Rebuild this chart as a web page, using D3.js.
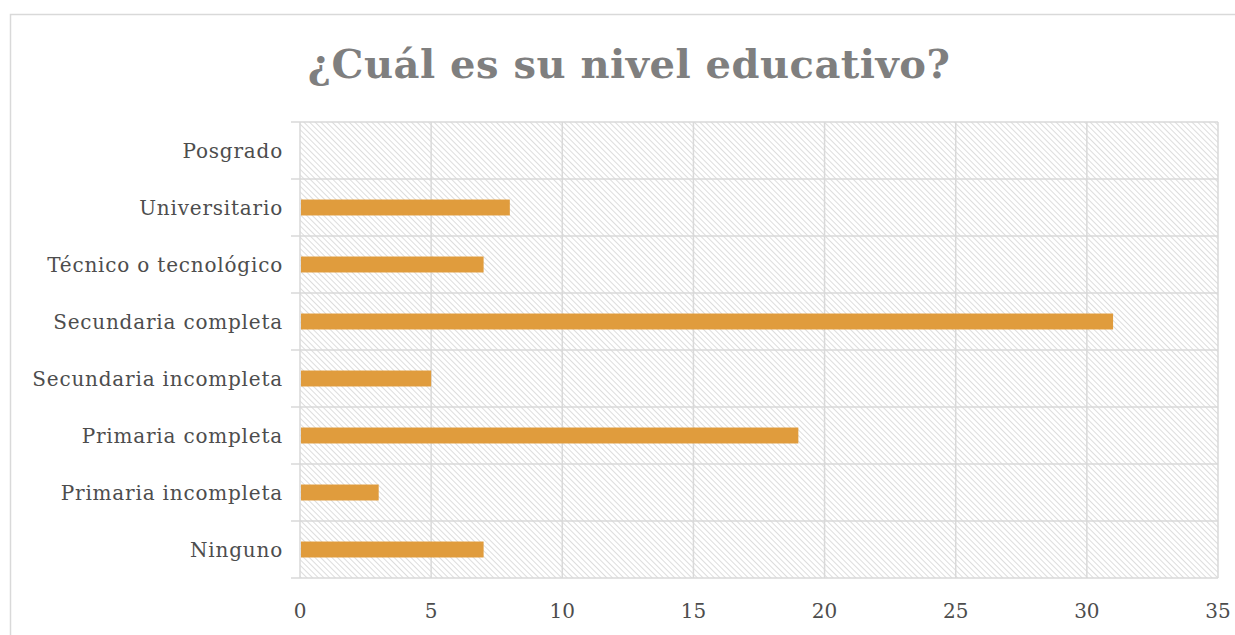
<!DOCTYPE html>
<html>
<head>
<meta charset="utf-8">
<script src="https://cdn.jsdelivr.net/npm/d3@7"></script>
<style>
  body { margin: 0; background: #fff; }
  text { font-family: "DejaVu Serif", "Liberation Serif", serif; }
</style>
</head>
<body>
<div id="chart"></div>
<script>
var categories = ["Ninguno", "Primaria incompleta", "Primaria completa", "Secundaria incompleta",
                  "Secundaria completa", "Técnico o tecnológico", "Universitario", "Posgrado"];
var values = [7, 3, 19, 5, 31, 7, 8, 0];
var ticks = [0, 5, 10, 15, 20, 25, 30, 35];

var width = 1235,
    height = 635,
    margin = {top: 122, right: 17, bottom: 57, left: 300};

var svg = d3.select("#chart").append("svg")
    .attr("width", width)
    .attr("height", height);

// hatch fill, lines running top-left to bottom-right
var defs = svg.append("defs");
var pat = defs.append("pattern")
    .attr("id", "hatch")
    .attr("patternUnits", "userSpaceOnUse")
    .attr("width", 4)
    .attr("height", 4)
    .attr("patternTransform", "rotate(-45)");
pat.append("line")
    .attr("x1", 0).attr("y1", 0).attr("x2", 0).attr("y2", 4)
    .attr("stroke", "#cfcfcf")
    .attr("stroke-width", 1.4);

// outer frame
svg.append("rect")
    .attr("x", 10.5).attr("y", 14.5)
    .attr("width", 1240).attr("height", 640)
    .attr("fill", "none")
    .attr("stroke", "#d9d9d9")
    .attr("stroke-width", 1.5);

svg.append("text")
    .attr("x", 629)
    .attr("y", 78)
    .attr("text-anchor", "middle")
    .style("font-size", "40px")
    .style("font-weight", "bold")
    .style("letter-spacing", "0.5px")
    .style("fill", "#7f7f7f")
    .text("¿Cuál es su nivel educativo?");

var x = d3.scaleLinear()
    .domain([0, 35])
    .range([margin.left, width - margin.right]);

var y = d3.scaleBand()
    .domain(categories.slice().reverse())
    .range([margin.top, height - margin.bottom]);

var g = svg.append("g");

g.append("rect")
    .attr("x", x(0)).attr("y", margin.top)
    .attr("width", x(35) - x(0))
    .attr("height", height - margin.bottom - margin.top)
    .attr("fill", "url(#hatch)");

// vertical gridlines
g.selectAll(".vgrid")
    .data(ticks)
    .enter().append("line")
    .attr("x1", function(d) { return x(d); })
    .attr("x2", function(d) { return x(d); })
    .attr("y1", margin.top)
    .attr("y2", height - margin.bottom)
    .attr("stroke", "#d9d9d9")
    .attr("stroke-width", 1.5);

// horizontal band lines
var bounds = categories.map(function(c) { return y(c); }).concat([height - margin.bottom]);
g.selectAll(".hgrid")
    .data(bounds)
    .enter().append("line")
    .attr("x1", x(0) - 9)
    .attr("x2", x(35))
    .attr("y1", function(d) { return d; })
    .attr("y2", function(d) { return d; })
    .attr("stroke", "#d9d9d9")
    .attr("stroke-width", 1.5);

var barH = y.bandwidth() * 0.28;
g.selectAll(".bar")
    .data(categories)
    .enter().append("rect")
    .attr("x", x(0) + 1)
    .attr("y", function(d) { return y(d) + y.bandwidth() / 2 - barH / 2; })
    .attr("width", function(d, i) { return Math.max(0, x(values[i]) - x(0) - 1); })
    .attr("height", barH)
    .attr("fill", "#e09c3d");

// category labels
g.selectAll(".cat")
    .data(categories)
    .enter().append("text")
    .attr("x", 283)
    .attr("y", function(d) { return y(d) + y.bandwidth() / 2; })
    .attr("dy", "0.36em")
    .attr("text-anchor", "end")
    .style("font-size", "20px")
    .style("letter-spacing", "0.8px")
    .style("fill", "#4d4d4d")
    .text(function(d) { return d; });

// x tick labels
g.selectAll(".tick")
    .data(ticks)
    .enter().append("text")
    .attr("x", function(d) { return x(d); })
    .attr("y", 618)
    .attr("text-anchor", "middle")
    .style("font-size", "20px")
    .style("fill", "#4d4d4d")
    .text(function(d) { return d; });
</script>
</body>
</html>
